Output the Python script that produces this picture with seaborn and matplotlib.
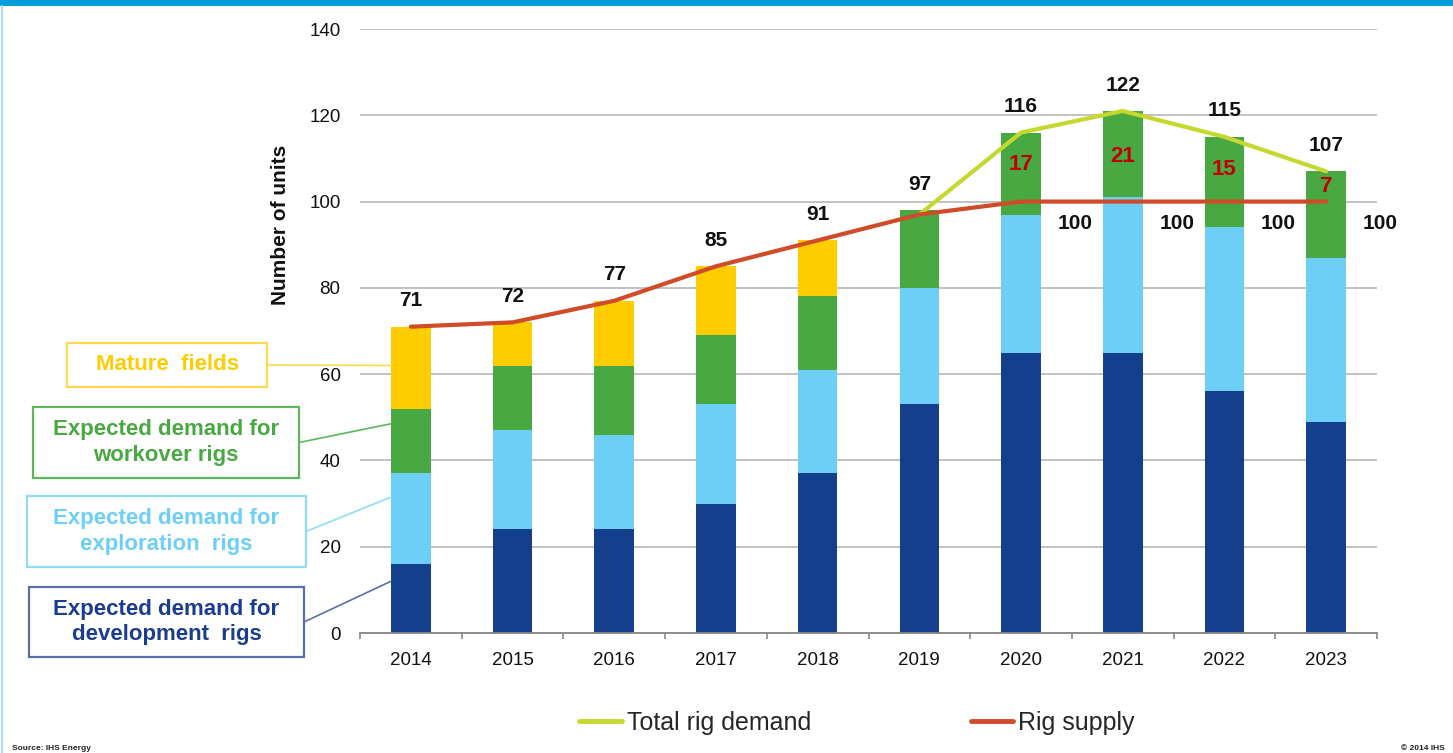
import numpy as np
import matplotlib.pyplot as plt
import seaborn as sns
from matplotlib.patches import Rectangle, ConnectionPatch
from matplotlib.lines import Line2D

# data
years = [2014, 2015, 2016, 2017, 2018, 2019, 2020, 2021, 2022, 2023]
development = [16, 24, 24, 30, 37, 53, 65, 65, 56, 49]
exploration = [21, 23, 22, 23, 24, 27, 32, 36, 38, 38]
workover = [15, 15, 16, 16, 17, 18, 19, 20, 21, 20]
mature = [19, 10, 15, 16, 13, 0, 0, 0, 0, 0]
total_labels = [71, 72, 77, 85, 91, 97, 116, 122, 115, 107]
rig_supply = [71, 72, 77, 85, 91, 97, 100, 100, 100, 100]
demand_years = [2019, 2020, 2021, 2022, 2023]
total_demand = [97, 116, 121, 115, 107]
excess = [17, 21, 15, 7]
excess_years = [2020, 2021, 2022, 2023]

C_DEV = '#143f8c'
C_EXP = '#6dcff6'
C_WO = '#48a842'
C_MAT = '#ffcc00'
C_DEMAND = '#c5d82f'
C_SUPPLY = '#d04b28'

sns.set_style('white')
plt.rcParams['font.family'] = ['Liberation Sans', 'DejaVu Sans']

W, H = 1453, 753
fig = plt.figure(figsize=(W / 100, H / 100), dpi=100)
ax = fig.add_axes([360 / W, 1 - 633 / H, 1017 / W, 604 / H])


def fx(px):
    return px / W


def fy(py):
    return 1 - py / H


# stacked bars: draw cumulative heights from top layer down
dev = np.array(development)
exp_ = dev + np.array(exploration)
wo = exp_ + np.array(workover)
mat = wo + np.array(mature)
for vals, col in [(mat, C_MAT), (wo, C_WO), (exp_, C_EXP), (dev, C_DEV)]:
    sns.barplot(x=years, y=vals, color=col, saturation=1, width=0.39,
                errorbar=None, ax=ax, zorder=2, linewidth=0)

xpos = np.arange(len(years))
dpos = np.array([years.index(y) for y in demand_years])
sns.lineplot(x=dpos, y=total_demand, color=C_DEMAND, lw=3, ax=ax, zorder=4, legend=False)
sns.lineplot(x=xpos, y=rig_supply, color=C_SUPPLY, lw=3, ax=ax, zorder=4, legend=False)

# value labels
for i, t in enumerate(total_labels):
    ax.text(i, mat[i] + 6, str(t), ha='center', va='center',
            fontsize=15, fontweight='bold', color='#111111', zorder=5)
for y, e in zip(excess_years, excess):
    i = years.index(y)
    ax.text(i, rig_supply[i] + e / 2, str(e), ha='center', va='center',
            fontsize=16, fontweight='bold', color='#c00000', zorder=5)
    ax.text(i + 0.53, rig_supply[i] - 5, str(rig_supply[i]), ha='center', va='center',
            fontsize=15, fontweight='bold', color='#111111', zorder=5)

ax.set_xlim(-0.5, 9.5)
ax.set_ylim(0, 140)
ax.set_yticks(range(0, 141, 20))
ax.set_xticks(xpos)
ax.set_xticklabels([str(y) for y in years], fontsize=13.5, color='#111111')
ax.set_xticks(np.arange(-0.5, 10, 1), minor=True)
ax.tick_params(axis='x', which='major', length=0, pad=14)
ax.tick_params(axis='x', which='minor', length=4, color='#888888', width=1.2, bottom=True)
ax.tick_params(axis='y', length=0, pad=14, labelsize=13.5, labelcolor='#111111')
ax.set_xlabel('')
ax.set_ylabel('')
ax.grid(axis='y', color='#b8b8b8', lw=1.2, zorder=0)
ax.set_axisbelow(True)
for s in ['top', 'right', 'left']:
    ax.spines[s].set_visible(False)
ax.spines['bottom'].set_color('#888888')
ax.spines['bottom'].set_linewidth(1.3)

fig.text(fx(280), fy(225), 'Number of units', rotation=90, ha='center', va='center',
         fontsize=15, fontweight='bold', color='#111111')

# labelled boxes with leader lines to the 2014 bar
boxes = [
    ('Mature  fields', C_MAT, '#ffd84d', (67, 343, 267, 387), 62),
    ('Expected demand for\nworkover rigs', C_WO, '#5cb85c', (33, 407, 299, 478), 48.5),
    ('Expected demand for\nexploration  rigs', C_EXP, '#8fdcf7', (27, 496, 306, 567), 31.5),
    ('Expected demand for\ndevelopment  rigs', '#1a3d8f', '#5a6fa8', (29, 587, 304, 657), 12),
]
for text, tc, ec, (x0, y0, x1, y1), target in boxes:
    fig.add_artist(Rectangle((fx(x0), fy(y1)), fx(x1) - fx(x0), fy(y0) - fy(y1),
                             transform=fig.transFigure, fill=False, ec=ec, lw=1.6))
    fig.text(fx((x0 + x1) / 2), fy((y0 + y1) / 2), text, ha='center', va='center',
             fontsize=16, fontweight='bold', color=tc, linespacing=1.3)
    con = ConnectionPatch(xyA=(fx(x1), fy((y0 + y1) / 2)), coordsA=fig.transFigure,
                          xyB=(-0.195, target), coordsB=ax.transData,
                          color=ec, lw=1.2)
    fig.add_artist(con)

handles = [Line2D([], [], color=C_DEMAND, lw=3.5), Line2D([], [], color=C_SUPPLY, lw=3.5)]
fig.legend(handles, ['Total rig demand', 'Rig supply'], loc='center',
           bbox_to_anchor=(fx(857), fy(723)), ncol=2, frameon=False, fontsize=18,
           handlelength=1.7, handletextpad=0.2, columnspacing=6.4)

# page decoration
fig.add_artist(Rectangle((0, fy(6)), 1, 6 / H, transform=fig.transFigure,
                         color='#009ddc', lw=0))
fig.add_artist(Line2D([fx(1.5), fx(1.5)], [0, fy(6)], transform=fig.transFigure,
                      color='#a8dcf3', lw=1.5))
fig.text(fx(12), fy(748), 'Source: IHS Energy', fontsize=6, fontweight='bold',
         ha='left', va='center', color='#222222')
fig.text(fx(1445), fy(748), '© 2014 IHS', fontsize=6, fontweight='bold',
         ha='right', va='center', color='#222222')

fig.savefig('out.png', dpi=100)
